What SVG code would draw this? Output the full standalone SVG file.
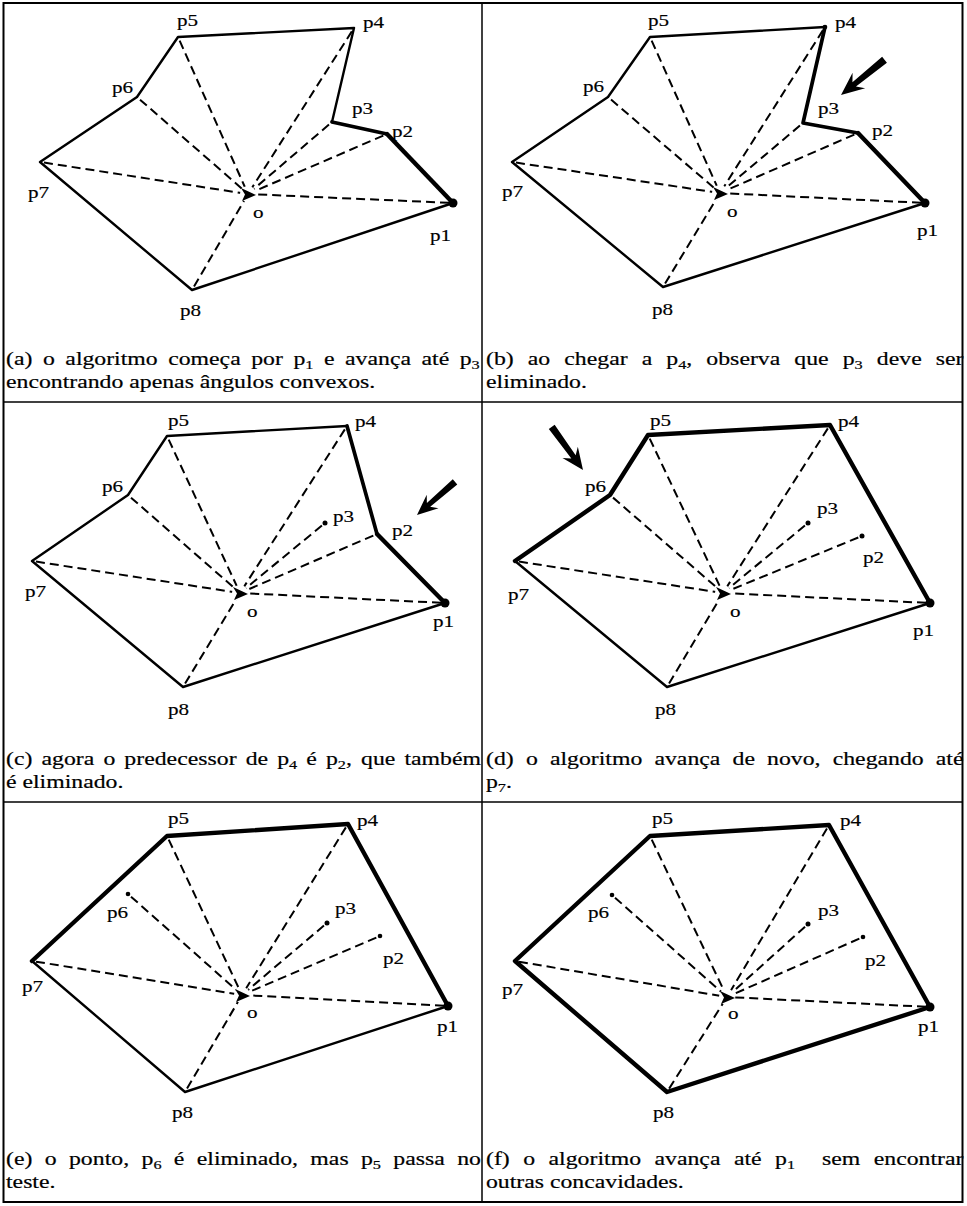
<svg xmlns="http://www.w3.org/2000/svg" width="967" height="1206" viewBox="0 0 967 1206">
<style>
.edge{fill:none;stroke:#000;stroke-linecap:round;stroke-linejoin:round}
.thin{stroke-width:2.4}
.thick{stroke-width:4.4}
.med{stroke-width:3.7}
.dash line{stroke:#000;stroke-width:2;stroke-dasharray:9 5;stroke-dashoffset:10}
.lb{font-family:"Liberation Serif","Times New Roman",serif;font-size:16.5px;fill:#000;stroke:#000;stroke-width:0.15}
.cap{font-family:"Liberation Serif","Times New Roman",serif;font-size:19px;fill:#000;stroke:#000;stroke-width:0.2}
.sub{font-size:13px}
.frame{fill:none;stroke:#000}
.dot{fill:#000}
.blank{fill:#fff}
</style>
<defs>
<path id="bigarrow" d="M0,0 L23,-10 L17,-2.8 L56,-3.8 L56,3.8 L17,2.8 L23,10 Z" fill="#000"/>
<path id="omark" d="M-7,-6 L8,1 L-6,7 L-3,0.5 Z" fill="#000"/>
</defs>
<rect width="967" height="1206" fill="#fff"/>
<g id="frame">
<rect class="frame" x="3.5" y="3" width="959" height="1199" stroke-width="2"/>
<line class="frame" x1="482" y1="3" x2="482" y2="1202" stroke-width="1.5"/>
<line class="frame" x1="3" y1="402" x2="963" y2="402" stroke-width="1.5"/>
<line class="frame" x1="3" y1="802" x2="963" y2="802" stroke-width="1.5"/>
</g>

<!-- Panel a -->
<g id="panel-a">
<g id="a-connectors">
<path class="edge thin" d="M332,122 L354,28 L178,37 L137,97 L40,162 L192,290 L453,203"/>
<path class="edge med" d="M332,122 L387,134"/>
<path class="edge thick" d="M387,134 L453,203"/>
<g class="dash">
<line x1="453" y1="203" x2="248" y2="194"/>
<line x1="387" y1="134" x2="248" y2="194"/>
<line x1="332" y1="122" x2="248" y2="194"/>
<line x1="354" y1="28" x2="248" y2="194"/>
<line x1="178" y1="37" x2="248" y2="194"/>
<line x1="137" y1="97" x2="248" y2="194"/>
<line x1="40" y1="162" x2="248" y2="194"/>
<line x1="192" y1="290" x2="248" y2="194"/>
</g>
</g>
<g id="a-o"><circle class="blank" cx="248" cy="194" r="8"/><use href="#omark" x="248" y="194"/><text class="lb" transform="translate(253,218) scale(1.28,1)">o</text></g>
<g id="a-p1"><circle class="dot" cx="453" cy="203" r="4.5"/><text class="lb" transform="translate(430,241) scale(1.28,1)">p1</text></g>
<g id="a-p2"><text class="lb" transform="translate(392,137) scale(1.28,1)">p2</text></g>
<g id="a-p3"><text class="lb" transform="translate(352,114) scale(1.28,1)">p3</text></g>
<g id="a-p4"><text class="lb" transform="translate(363,28) scale(1.28,1)">p4</text></g>
<g id="a-p5"><text class="lb" transform="translate(177,26) scale(1.28,1)">p5</text></g>
<g id="a-p6"><text class="lb" transform="translate(112,93) scale(1.28,1)">p6</text></g>
<g id="a-p7"><text class="lb" transform="translate(28,198) scale(1.28,1)">p7</text></g>
<g id="a-p8"><text class="lb" transform="translate(180,316) scale(1.28,1)">p8</text></g>
<g id="a-caption">
<text class="cap" transform="translate(6,365) scale(1.25,1)" word-spacing="3.7" textLength="379" lengthAdjust="spacing">(a) o algoritmo começa por p<tspan class="sub" dy="4">1</tspan><tspan dy="-4"> e avança até p</tspan><tspan class="sub" dy="4">3</tspan></text>
<text class="cap" transform="translate(6,388) scale(1.25,1)">encontrando apenas ângulos convexos.</text>
</g>
</g>

<!-- Panel b -->
<g id="panel-b">
<g id="b-connectors">
<path class="edge thin" d="M825,27 L650,37 L608,97 L512,162 L663,287 L925,203"/>
<path class="edge med" d="M825,27 L803,123 L858,133"/>
<path class="edge thick" d="M858,133 L925,203"/>
<g class="dash">
<line x1="925" y1="203" x2="720" y2="193"/>
<line x1="858" y1="133" x2="720" y2="193"/>
<line x1="803" y1="123" x2="720" y2="193"/>
<line x1="825" y1="27" x2="720" y2="193"/>
<line x1="650" y1="37" x2="720" y2="193"/>
<line x1="608" y1="97" x2="720" y2="193"/>
<line x1="512" y1="162" x2="720" y2="193"/>
<line x1="663" y1="287" x2="720" y2="193"/>
</g>
</g>
<g id="b-arrow"><use href="#bigarrow" transform="translate(841,95) rotate(-39)"/></g>
<g id="b-o"><circle class="blank" cx="720" cy="193" r="8"/><use href="#omark" x="720" y="193"/><text class="lb" transform="translate(727,217) scale(1.28,1)">o</text></g>
<g id="b-p1"><circle class="dot" cx="925" cy="203" r="4.5"/><text class="lb" transform="translate(917,236) scale(1.28,1)">p1</text></g>
<g id="b-p2"><text class="lb" transform="translate(872,136) scale(1.28,1)">p2</text></g>
<g id="b-p3"><text class="lb" transform="translate(818,114) scale(1.28,1)">p3</text></g>
<g id="b-p4"><circle class="dot" cx="825" cy="27" r="2.3"/><text class="lb" transform="translate(835,28) scale(1.28,1)">p4</text></g>
<g id="b-p5"><text class="lb" transform="translate(648,26) scale(1.28,1)">p5</text></g>
<g id="b-p6"><text class="lb" transform="translate(583,92) scale(1.28,1)">p6</text></g>
<g id="b-p7"><text class="lb" transform="translate(502,197) scale(1.28,1)">p7</text></g>
<g id="b-p8"><text class="lb" transform="translate(652,315) scale(1.28,1)">p8</text></g>
<g id="b-caption">
<text class="cap" transform="translate(486,365) scale(1.25,1)" word-spacing="6.5" textLength="382" lengthAdjust="spacing">(b) ao chegar a p<tspan class="sub" dy="4">4</tspan><tspan dy="-4">, observa que p</tspan><tspan class="sub" dy="4">3</tspan><tspan dy="-4"> deve ser</tspan></text>
<text class="cap" transform="translate(486,388) scale(1.25,1)">eliminado.</text>
</g>
</g>

<!-- Panel c -->
<g id="panel-c">
<g id="c-connectors">
<path class="edge thin" d="M347,426 L167,436 L128,495 L32,561 L183,687 L445,603"/>
<path class="edge med" d="M347,426 L377,534"/>
<path class="edge thick" d="M377,534 L445,603"/>
<g class="dash">
<line x1="445" y1="603" x2="240" y2="593"/>
<line x1="377" y1="534" x2="240" y2="593"/>
<line x1="325" y1="523" x2="240" y2="593"/>
<line x1="347" y1="426" x2="240" y2="593"/>
<line x1="167" y1="436" x2="240" y2="593"/>
<line x1="128" y1="495" x2="240" y2="593"/>
<line x1="32" y1="561" x2="240" y2="593"/>
<line x1="183" y1="687" x2="240" y2="593"/>
</g>
</g>
<g id="c-arrow"><use href="#bigarrow" transform="translate(417,515) rotate(-41) scale(0.9)"/></g>
<g id="c-o"><circle class="blank" cx="240" cy="593" r="8"/><use href="#omark" x="240" y="593"/><text class="lb" transform="translate(247,617) scale(1.28,1)">o</text></g>
<g id="c-p1"><circle class="dot" cx="445" cy="603" r="4.5"/><text class="lb" transform="translate(433,627) scale(1.28,1)">p1</text></g>
<g id="c-p2"><text class="lb" transform="translate(392,536) scale(1.28,1)">p2</text></g>
<g id="c-p3"><circle class="dot" cx="325" cy="523" r="2.5"/><text class="lb" transform="translate(333,522) scale(1.28,1)">p3</text></g>
<g id="c-p4"><text class="lb" transform="translate(355,427) scale(1.28,1)">p4</text></g>
<g id="c-p5"><text class="lb" transform="translate(168,426) scale(1.28,1)">p5</text></g>
<g id="c-p6"><text class="lb" transform="translate(102,492) scale(1.28,1)">p6</text></g>
<g id="c-p7"><text class="lb" transform="translate(25,597) scale(1.28,1)">p7</text></g>
<g id="c-p8"><text class="lb" transform="translate(168,715) scale(1.28,1)">p8</text></g>
<g id="c-caption">
<text class="cap" transform="translate(6,765) scale(1.25,1)" word-spacing="2.5" textLength="380" lengthAdjust="spacing">(c) agora o predecessor de p<tspan class="sub" dy="4">4</tspan><tspan dy="-4"> é p</tspan><tspan class="sub" dy="4">2</tspan><tspan dy="-4">, que também</tspan></text>
<text class="cap" transform="translate(6,788) scale(1.25,1)">é eliminado.</text>
</g>
</g>

<!-- Panel d -->
<g id="panel-d">
<g id="d-connectors">
<path class="edge thin" d="M515,561 L667,687 L930,603"/>
<path class="edge thick" d="M930,603 L830,425 L648,435 L610,495 L515,561"/>
<g class="dash">
<line x1="930" y1="603" x2="723" y2="593"/>
<line x1="862" y1="536" x2="723" y2="593"/>
<line x1="808" y1="523" x2="723" y2="593"/>
<line x1="830" y1="425" x2="723" y2="593"/>
<line x1="648" y1="435" x2="723" y2="593"/>
<line x1="610" y1="495" x2="723" y2="593"/>
<line x1="515" y1="561" x2="723" y2="593"/>
<line x1="667" y1="687" x2="723" y2="593"/>
</g>
</g>
<g id="d-arrow"><use href="#bigarrow" transform="translate(583,470) rotate(-126) scale(0.95)"/></g>
<g id="d-o"><circle class="blank" cx="723" cy="593" r="8"/><use href="#omark" x="723" y="593"/><text class="lb" transform="translate(730,617) scale(1.28,1)">o</text></g>
<g id="d-p1"><circle class="dot" cx="930" cy="603" r="4.5"/><text class="lb" transform="translate(913,636) scale(1.28,1)">p1</text></g>
<g id="d-p2"><circle class="dot" cx="862" cy="536" r="2.5"/><text class="lb" transform="translate(863,563) scale(1.28,1)">p2</text></g>
<g id="d-p3"><circle class="dot" cx="808" cy="523" r="2.5"/><text class="lb" transform="translate(817,514) scale(1.28,1)">p3</text></g>
<g id="d-p4"><text class="lb" transform="translate(838,427) scale(1.28,1)">p4</text></g>
<g id="d-p5"><text class="lb" transform="translate(650,426) scale(1.28,1)">p5</text></g>
<g id="d-p6"><text class="lb" transform="translate(585,492) scale(1.28,1)">p6</text></g>
<g id="d-p7"><text class="lb" transform="translate(508,600) scale(1.28,1)">p7</text></g>
<g id="d-p8"><text class="lb" transform="translate(655,715) scale(1.28,1)">p8</text></g>
<g id="d-caption">
<text class="cap" transform="translate(486,765) scale(1.25,1)" word-spacing="5" textLength="382" lengthAdjust="spacing">(d) o algoritmo avança de novo, chegando até</text>
<text class="cap" transform="translate(486,788) scale(1.25,1)">p<tspan class="sub" dy="4">7</tspan><tspan dy="-4">.</tspan></text>
</g>
</g>

<!-- Panel e -->
<g id="panel-e">
<g id="e-connectors">
<path class="edge thin" d="M32,961 L185,1092 L448,1006"/>
<path class="edge thick" d="M448,1006 L348,824 L167,836 L32,961"/>
<g class="dash">
<line x1="448" y1="1006" x2="242" y2="995"/>
<line x1="380" y1="936" x2="242" y2="995"/>
<line x1="327" y1="923" x2="242" y2="995"/>
<line x1="348" y1="824" x2="242" y2="995"/>
<line x1="167" y1="836" x2="242" y2="995"/>
<line x1="128" y1="894" x2="242" y2="995"/>
<line x1="32" y1="961" x2="242" y2="995"/>
<line x1="185" y1="1092" x2="242" y2="995"/>
</g>
</g>
<g id="e-o"><circle class="blank" cx="242" cy="995" r="8"/><use href="#omark" x="242" y="995"/><text class="lb" transform="translate(247,1018) scale(1.28,1)">o</text></g>
<g id="e-p1"><circle class="dot" cx="448" cy="1006" r="4.5"/><text class="lb" transform="translate(437,1032) scale(1.28,1)">p1</text></g>
<g id="e-p2"><circle class="dot" cx="380" cy="936" r="2.3"/><text class="lb" transform="translate(383,964) scale(1.28,1)">p2</text></g>
<g id="e-p3"><circle class="dot" cx="327" cy="923" r="2.5"/><text class="lb" transform="translate(335,914) scale(1.28,1)">p3</text></g>
<g id="e-p4"><text class="lb" transform="translate(357,826) scale(1.28,1)">p4</text></g>
<g id="e-p5"><text class="lb" transform="translate(168,824) scale(1.28,1)">p5</text></g>
<g id="e-p6"><circle class="dot" cx="128" cy="894" r="2.3"/><text class="lb" transform="translate(107,918) scale(1.28,1)">p6</text></g>
<g id="e-p7"><text class="lb" transform="translate(22,992) scale(1.28,1)">p7</text></g>
<g id="e-p8"><text class="lb" transform="translate(172,1118) scale(1.28,1)">p8</text></g>
<g id="e-caption">
<text class="cap" transform="translate(6,1165) scale(1.25,1)" word-spacing="5" textLength="380" lengthAdjust="spacing">(e) o ponto, p<tspan class="sub" dy="4">6</tspan><tspan dy="-4"> é eliminado, mas p</tspan><tspan class="sub" dy="4">5</tspan><tspan dy="-4"> passa no</tspan></text>
<text class="cap" transform="translate(6,1188) scale(1.25,1)">teste.</text>
</g>
</g>

<!-- Panel f -->
<g id="panel-f">
<g id="f-connectors">
<path class="edge thick" d="M930,1007 L829,825 L650,836 L515,961 L667,1092 Z"/>
<g class="dash">
<line x1="930" y1="1007" x2="727" y2="997"/>
<line x1="863" y1="937" x2="727" y2="997"/>
<line x1="808" y1="924" x2="727" y2="997"/>
<line x1="829" y1="825" x2="727" y2="997"/>
<line x1="650" y1="836" x2="727" y2="997"/>
<line x1="612" y1="895" x2="727" y2="997"/>
<line x1="515" y1="961" x2="727" y2="997"/>
<line x1="667" y1="1092" x2="727" y2="997"/>
</g>
</g>
<g id="f-o"><circle class="blank" cx="727" cy="997" r="8"/><use href="#omark" x="727" y="997"/><text class="lb" transform="translate(728,1019) scale(1.28,1)">o</text></g>
<g id="f-p1"><circle class="dot" cx="930" cy="1007" r="4.5"/><text class="lb" transform="translate(918,1032) scale(1.28,1)">p1</text></g>
<g id="f-p2"><circle class="dot" cx="863" cy="937" r="2.3"/><text class="lb" transform="translate(865,966) scale(1.28,1)">p2</text></g>
<g id="f-p3"><circle class="dot" cx="808" cy="924" r="2.5"/><text class="lb" transform="translate(818,916) scale(1.28,1)">p3</text></g>
<g id="f-p4"><text class="lb" transform="translate(840,826) scale(1.28,1)">p4</text></g>
<g id="f-p5"><text class="lb" transform="translate(652,824) scale(1.28,1)">p5</text></g>
<g id="f-p6"><circle class="dot" cx="612" cy="895" r="2.3"/><text class="lb" transform="translate(588,918) scale(1.28,1)">p6</text></g>
<g id="f-p7"><text class="lb" transform="translate(502,995) scale(1.28,1)">p7</text></g>
<g id="f-p8"><text class="lb" transform="translate(653,1118) scale(1.28,1)">p8</text></g>
<g id="f-caption">
<text class="cap" transform="translate(486,1165) scale(1.25,1)" word-spacing="6" textLength="382" lengthAdjust="spacing">(f) o algoritmo avança até p<tspan class="sub" dy="4">1</tspan><tspan dy="-4">&#160; sem encontrar</tspan></text>
<text class="cap" transform="translate(486,1188) scale(1.25,1)">outras concavidades.</text>
</g>
</g>
</svg>
